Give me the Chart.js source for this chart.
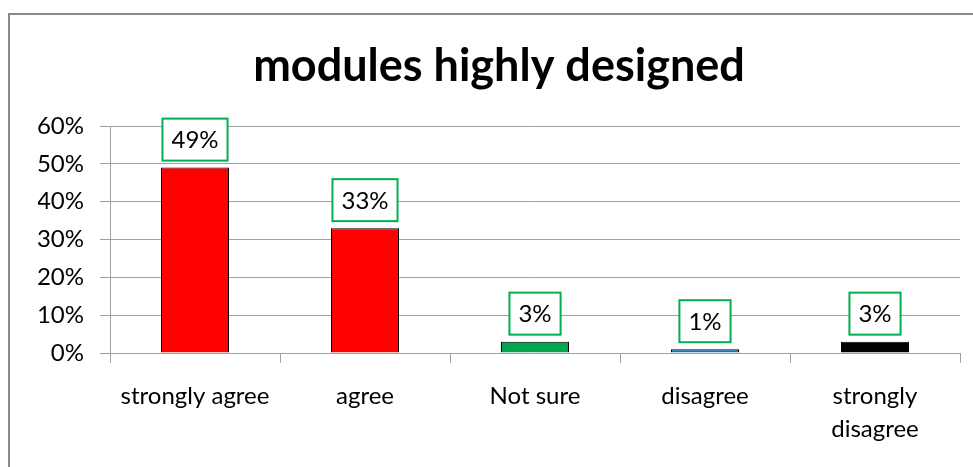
<!DOCTYPE html>
<html>
<head>
<meta charset="utf-8">
<script src="https://cdn.jsdelivr.net/npm/chart.js@4"></script>
<style>
  html, body { margin: 0; padding: 0; background: #fff; overflow: hidden; }
  #wrap { position: relative; width: 973px; height: 467px; }
  #frame { position: absolute; left: 8px; top: 13px; width: 1000px; height: 500px;
           border-left: 2px solid #8a8a8a; border-top: 2px solid #8a8a8a; pointer-events: none; }
</style>
</head>
<body>
<div id="wrap">
  <canvas id="myChart" width="973" height="467"></canvas>
  <div id="frame"></div>
</div>
<script>
const categories = ['strongly agree', 'agree', 'Not sure', 'disagree', ['strongly', 'disagree']];
const values = [49, 33, 3, 1, 3];
const barColors = ['#ff0000', '#ff0000', '#00a650', '#1f6db5', '#000000'];
const yTicks = [0, 10, 20, 30, 40, 50, 60];

const FONT = 'Lato';

// green boxed value labels above each bar
const boxLabels = {
  id: 'boxLabels',
  afterDatasetsDraw(chart) {
    const ctx = chart.ctx;
    const meta = chart.getDatasetMeta(0);
    ctx.save();
    ctx.font = '24px ' + FONT;
    ctx.textAlign = 'center';
    ctx.textBaseline = 'middle';
    meta.data.forEach((bar, i) => {
      const txt = values[i] + '%';
      const w = ctx.measureText(txt).width + 18;
      const h = 42;
      const bottom = bar.y - 7;
      ctx.fillStyle = '#fff';
      ctx.fillRect(bar.x - w / 2, bottom - h, w, h);
      ctx.strokeStyle = '#00b050';
      ctx.lineWidth = 2;
      ctx.strokeRect(bar.x - w / 2, bottom - h, w, h);
      ctx.fillStyle = '#000';
      ctx.fillText(txt, bar.x, bottom - h / 2 + 1);
    });
    ctx.restore();
  }
};

const ctx = document.getElementById('myChart');
new Chart(ctx, {
  type: 'bar',
  data: {
    labels: categories,
    datasets: [{
      data: values,
      backgroundColor: barColors,
      borderColor: '#000',
      borderWidth: 1,
      barPercentage: 0.4,
      categoryPercentage: 1
    }]
  },
  options: {
    responsive: false,
    animation: false,
    layout: { padding: { left: 38, right: 13, top: 0, bottom: 0 } },
    plugins: {
      legend: { display: false },
      tooltip: { enabled: false },
      title: {
        display: true,
        text: 'modules highly designed',
        color: '#000',
        font: { family: FONT, size: 45, weight: 'bold', lineHeight: 1.2 },
        padding: { top: 39, bottom: 33 }
      }
    },
    scales: {
      x: {
        grid: { offset: true, drawOnChartArea: false, color: '#a0a0a0', tickLength: 10 },
        border: { color: '#a0a0a0' },
        ticks: {
          color: '#000',
          font: { family: FONT, size: 24, lineHeight: 1.4 },
          padding: 16,
          maxRotation: 0
        },
        afterFit(s) { s.height = 114; }
      },
      y: {
        min: 0,
        max: 60,
        afterBuildTicks(s) { s.ticks = yTicks.map(v => ({ value: v })); },
        grid: { color: '#a0a0a0', tickLength: 10 },
        border: { color: '#a0a0a0' },
        ticks: {
          color: '#000',
          font: { family: FONT, size: 24 },
          padding: 16,
          callback: v => v + '%'
        },
        afterFit(s) { s.width = 72; }
      }
    }
  },
  plugins: [boxLabels]
});
</script>
</body>
</html>
